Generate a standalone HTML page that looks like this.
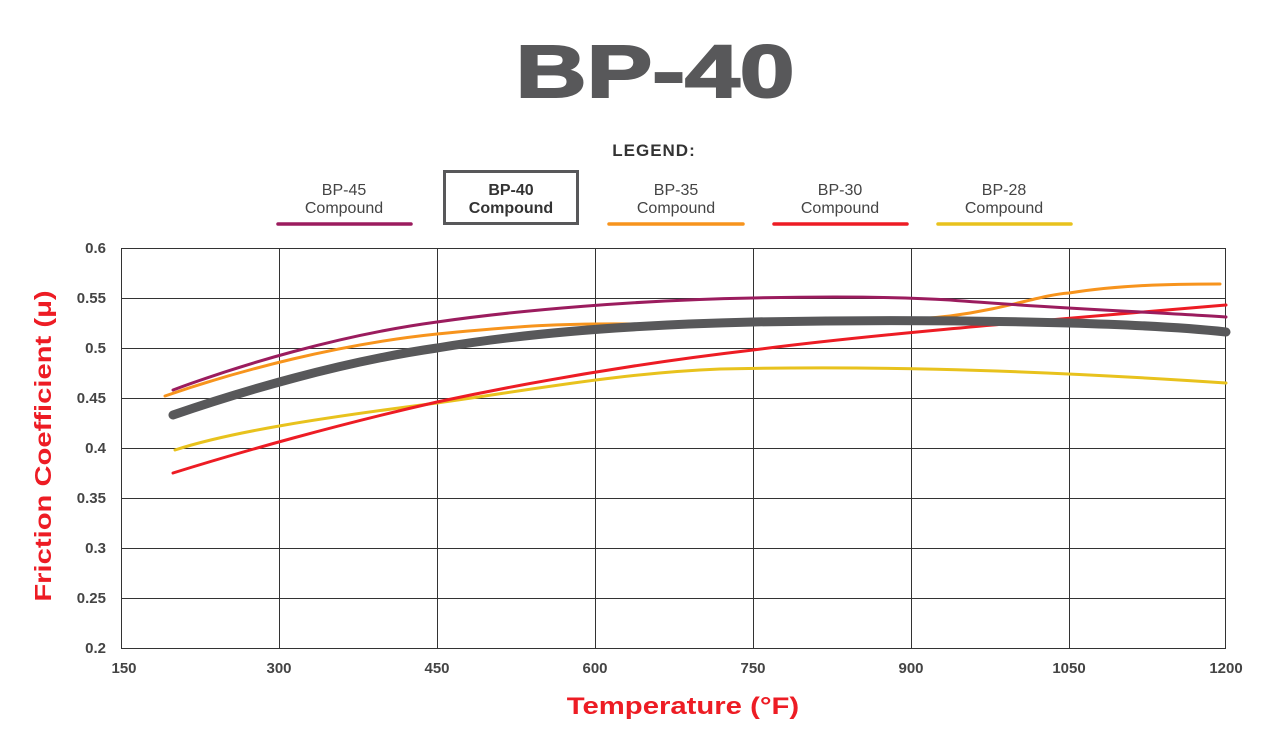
<!DOCTYPE html>
<html><head><meta charset="utf-8"><style>
body{margin:0;background:#fff;}
svg{display:block;font-family:"Liberation Sans",sans-serif;}
</style></head><body>
<svg width="1271" height="736" viewBox="0 0 1271 736">
<text x="655" y="97" text-anchor="middle" font-size="74" font-weight="bold" fill="#58585a" stroke="#58585a" stroke-width="2" transform="translate(655,0) scale(1.33,1) translate(-655,0)">BP-40</text>
<text x="654" y="156" text-anchor="middle" font-size="17" font-weight="bold" fill="#333" letter-spacing="1">LEGEND:</text>
<g font-size="16" fill="#444" text-anchor="middle">
<text x="344" y="195">BP-45</text><text x="344" y="213">Compound</text>
<text x="676" y="195">BP-35</text><text x="676" y="213">Compound</text>
<text x="840" y="195">BP-30</text><text x="840" y="213">Compound</text>
<text x="1004" y="195">BP-28</text><text x="1004" y="213">Compound</text>
<g font-weight="bold" fill="#333"><text x="511" y="195">BP-40</text><text x="511" y="213">Compound</text></g>
</g>
<rect x="444.5" y="171.5" width="133" height="52" fill="none" stroke="#58585a" stroke-width="3"/>
<g stroke-width="3.5" stroke-linecap="round">
<line x1="278" y1="224" x2="411" y2="224" stroke="#9b1c5e"/>
<line x1="609" y1="224" x2="743" y2="224" stroke="#f7941d"/>
<line x1="774" y1="224" x2="907" y2="224" stroke="#ed1c24"/>
<line x1="938" y1="224" x2="1071" y2="224" stroke="#e8c21d"/>
</g>
<g stroke="#333" stroke-width="1">
<line x1="121" y1="248.5" x2="1226" y2="248.5"/><line x1="121" y1="298.5" x2="1226" y2="298.5"/>
<line x1="121" y1="348.5" x2="1226" y2="348.5"/><line x1="121" y1="398.5" x2="1226" y2="398.5"/>
<line x1="121" y1="448.5" x2="1226" y2="448.5"/><line x1="121" y1="498.5" x2="1226" y2="498.5"/>
<line x1="121" y1="548.5" x2="1226" y2="548.5"/><line x1="121" y1="598.5" x2="1226" y2="598.5"/>
<line x1="121" y1="648.5" x2="1226" y2="648.5"/>
<line x1="121.5" y1="248" x2="121.5" y2="648"/><line x1="279.5" y1="248" x2="279.5" y2="648"/>
<line x1="437.5" y1="248" x2="437.5" y2="648"/><line x1="595.5" y1="248" x2="595.5" y2="648"/>
<line x1="753.5" y1="248" x2="753.5" y2="648"/><line x1="911.5" y1="248" x2="911.5" y2="648"/>
<line x1="1069.5" y1="248" x2="1069.5" y2="648"/><line x1="1225.5" y1="248" x2="1225.5" y2="648"/>
</g>
<g font-size="15" font-weight="bold" fill="#444" text-anchor="end">
<text x="106" y="253">0.6</text><text x="106" y="303">0.55</text><text x="106" y="353">0.5</text>
<text x="106" y="403">0.45</text><text x="106" y="453">0.4</text><text x="106" y="503">0.35</text>
<text x="106" y="553">0.3</text><text x="106" y="603">0.25</text><text x="106" y="653">0.2</text>
</g>
<g font-size="15" font-weight="bold" fill="#444" text-anchor="middle">
<text x="124" y="673">150</text><text x="279" y="673">300</text><text x="437" y="673">450</text>
<text x="595" y="673">600</text><text x="753" y="673">750</text><text x="911" y="673">900</text>
<text x="1069" y="673">1050</text><text x="1226" y="673">1200</text>
</g>
<text x="683" y="714" text-anchor="middle" font-size="24" font-weight="bold" fill="#ed1c24" transform="translate(683,0) scale(1.22,1) translate(-683,0)">Temperature (°F)</text>
<text transform="translate(51,446) rotate(-90) scale(1.27,1)" text-anchor="middle" font-size="23" font-weight="bold" fill="#ed1c24">Friction Coefficient (μ)</text>
<g fill="none" stroke-linecap="round">
<path d="M175,450 C230,432 320,418 437,403 C530,390 620,373 720,369 C850,366 1000,368 1226,383" stroke="#e8c21d" stroke-width="3"/>
<path d="M173,473 C240,452 340,424 437,402 C540,380 650,362 753,350 C860,336 1000,324 1226,305" stroke="#ed1c24" stroke-width="3"/>
<path d="M165,396 C240,370 340,344 437,334 C520,326 560,323 640,324 C760,324 880,324 950,316 C1010,308 1040,295 1069,293 C1120,285 1170,284 1220,284" stroke="#f7941d" stroke-width="3"/>
<path d="M173,390 C240,365 340,335 437,322 C520,310 640,300 753,298 C840,296 900,297 950,300 C1050,308 1150,312 1226,317" stroke="#9b1c5e" stroke-width="3"/>
<path d="M173,415 C240,392 340,362 437,348 C520,334 620,325 753,322 C850,320 960,320 1069,323 C1140,325 1190,328 1226,332" stroke="#58585a" stroke-width="9"/>
</g>
</svg>
</body></html>
